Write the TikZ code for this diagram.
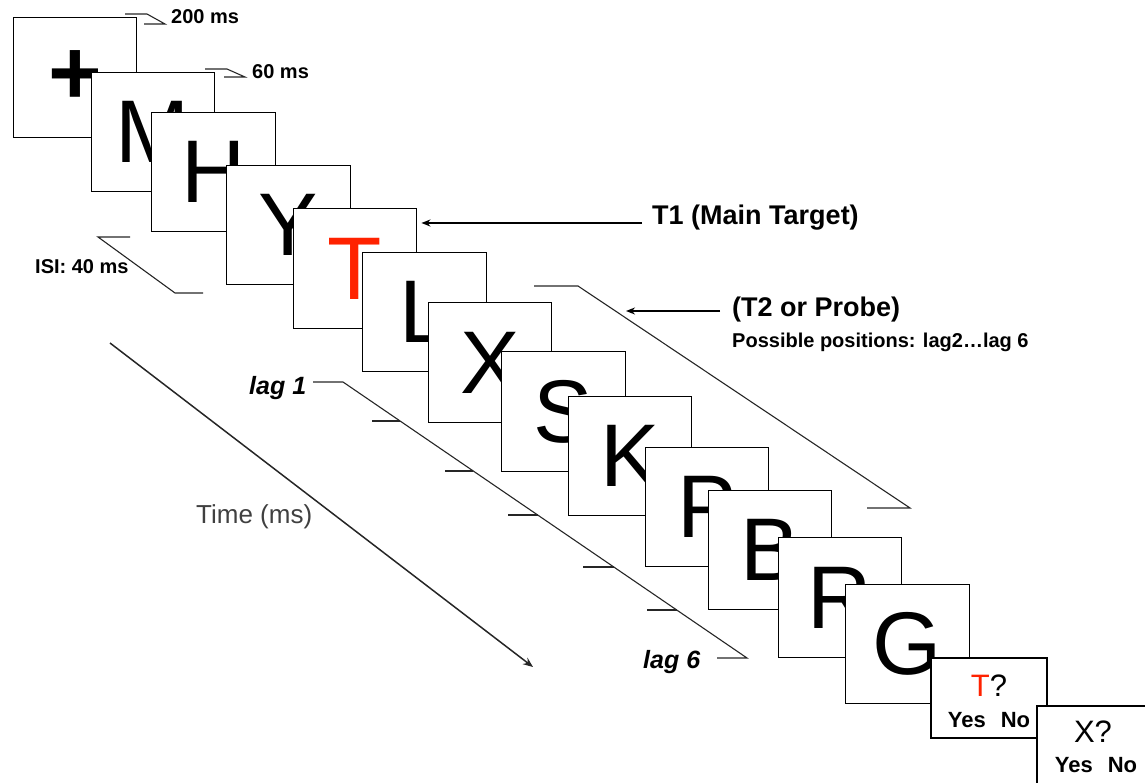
\documentclass[tikz,border=0pt]{standalone}
\usepackage{fontspec}
\setmainfont{Liberation Sans}
\usetikzlibrary{arrows.meta,calc}
\definecolor{tred}{HTML}{FF2200}
\definecolor{timegray}{HTML}{404040}
\begin{document}
\begin{tikzpicture}[x=1pt,y=-1pt,
  frame/.style={draw=black,line width=1.4pt,fill=white,minimum width=123.5pt,minimum height=119.5pt,inner sep=0pt,font=\fontsize{89}{89}\selectfont},
  smallframe/.style={draw=black,line width=1.4pt,fill=white,minimum width=116pt,minimum height=80pt,inner sep=0pt},
  lbl/.style={font=\bfseries\fontsize{20}{24}\selectfont,inner sep=0pt,anchor=base west},
  biglbl/.style={font=\bfseries\fontsize{27}{30}\selectfont,inner sep=0pt,anchor=base west},
  laglbl/.style={font=\bfseries\itshape\fontsize{25}{28}\selectfont,inner sep=0pt,anchor=base west},
  question/.style={font=\fontsize{31}{31}\selectfont,inner sep=0pt,anchor=base},
  yesno/.style={font=\bfseries\fontsize{22}{22}\selectfont,inner sep=0pt,anchor=base},
  thinline/.style={draw=black!85,line width=1.1pt},
  arr/.style={line width=2pt,-{Stealth[length=9pt,width=7pt]}}
]
\useasboundingbox (0,0) rectangle (1145,783);
\clip (0,0) rectangle (1145,783);

% timing brackets
\coordinate (a1) at (125,14); \coordinate (a2) at (147,14); \coordinate (a3) at (165,24); \coordinate (a4) at (144,24);
\draw[thinline] (a1) -- (a2) -- (a3) -- (a4);
\node[lbl] (ms200) at (171,24) {200 ms};
\coordinate (b1) at (205,69); \coordinate (b2) at (227,69); \coordinate (b3) at (245,77); \coordinate (b4) at (224,77);
\draw[thinline] (b1) -- (b2) -- (b3) -- (b4);
\node[lbl] (ms60) at (252,79) {60 ms};
\coordinate (c1) at (130,237); \coordinate (c2) at (98,237); \coordinate (c3) at (175,293); \coordinate (c4) at (203,293);
\draw[thinline] (c1) -- (c2) -- (c3) -- (c4);
\node[lbl] (isi) at (35,274) {ISI: 40 ms};

% T2 bracket
\coordinate (p1) at (534,286); \coordinate (p2) at (578,286); \coordinate (p3) at (910,508); \coordinate (p4) at (867,508);
\draw[thinline] (p1) -- (p2) -- (p3) -- (p4);

% lag bracket
\node[laglbl] (lag1) at (249,394) {lag 1};
\node[laglbl] (lag6) at (643,668) {lag 6};
\coordinate (l1) at (313,382); \coordinate (l2) at (343,382); \coordinate (l3) at (747,658); \coordinate (l4) at (717,658);
\draw[thinline] (l1) -- (l2) -- (l3) -- (l4);
\foreach \yy/\xa/\xb in {421/372/400, 471/445/473, 515/508/538, 567/583/614, 610/647/677}{
  \draw[thinline] (\xa,\yy) -- (\xb,\yy);
}

% time axis
\coordinate (ts) at (110,343); \coordinate (te) at (533,667);
\draw[line width=1.5pt,draw=black!85,-{Stealth[length=10pt,width=8pt]}] (ts) -- (te);
\node[font=\fontsize{26}{28}\selectfont,text=timegray,inner sep=0pt,anchor=base west] (time) at (196,523) {Time (ms)};

% frames
\node[frame,font=\bfseries\fontsize{92}{92}\selectfont] (f1) at (75,77.5) {\raisebox{-2.5pt}{+}};
\node[frame] (f2) at (153,132) {M};
\node[frame] (f3) at (213.5,172) {H};
\node[frame] (f4) at (288.5,225) {Y};
\node[frame,text=tred] (f5) at (355,268.5) {T};
\node[frame] (f6) at (424.5,312) {L};
\node[frame] (f7) at (490,362.5) {X};
\node[frame] (f8) at (563.5,411.5) {S};
\node[frame] (f9) at (630,456) {K};
\node[frame] (f10) at (707,507) {P};
\node[frame] (f11) at (770,550) {B};
\node[frame] (f12) at (840,597.5) {R};
\node[frame] (f13) at (907.5,644) {G};

\node[smallframe] (f14) at (989,698) {};
\node[question] (q14) at (989,696) {\textcolor{tred}{T}?};
\node[yesno] (yn14) at (989,727) {Yes\hspace{15pt}No};

\node[smallframe] (f15) at (1095,746) {};
\node[question] (q15) at (1093,742) {X?};
\node[yesno] (yn15) at (1096,772) {Yes\hspace{15pt}No};

% target labels and arrows
\node[biglbl] (t1) at (652,225) {T1 (Main Target)};
\coordinate (t1a) at (642,223);
\draw[arr] (t1a) -- ($(f5.east |- t1a)+(4,0)$);

\node[biglbl] (t2) at (732,317) {(T2 or Probe)};
\node[lbl] (pos) at (732,347) {Possible positions: lag2…lag 6};
\coordinate (t2a) at (720,311); \coordinate (t2tip) at (626,311);
\draw[arr] (t2a) -- (t2tip);
\end{tikzpicture}
\end{document}
